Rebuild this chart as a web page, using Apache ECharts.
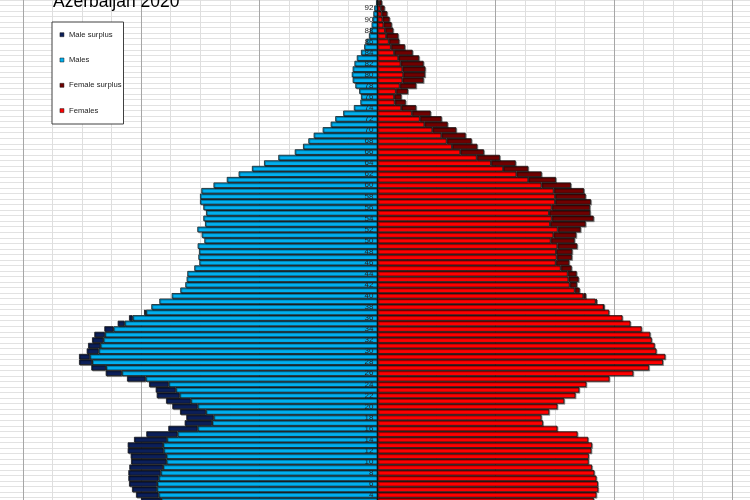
<!DOCTYPE html>
<html>
<head>
<meta charset="utf-8">
<title>Azerbaijan 2020</title>
<script src="https://cdn.jsdelivr.net/npm/echarts@6/dist/echarts.min.js"></script>
<style>
html, body { margin: 0; padding: 0; background: #fff; }
#chart { width: 750px; height: 500px; }
</style>
</head>
<body>
<div id="chart"></div>
<script>
// ages 3 .. 93, bottom to top
var ages = ['3', '4', '5', '6', '7', '8', '9', '10', '11', '12', '13', '14', '15', '16', '17', '18', '19', '20',
    '21', '22', '23', '24', '25', '26', '27', '28', '29', '30', '31', '32', '33', '34', '35', '36', '37', '38',
    '39', '40', '41', '42', '43', '44', '45', '46', '47', '48', '49', '50', '51', '52', '53', '54', '55', '56',
    '57', '58', '59', '60', '61', '62', '63', '64', '65', '66', '67', '68', '69', '70', '71', '72', '73', '74',
    '75', '76', '77', '78', '79', '80', '81', '82', '83', '84', '85', '86', '87', '88', '89', '90', '91', '92', '93'];

var males = [80030, 81730, 83080, 84090, 84320, 84320, 83990, 83420, 83530, 84540, 84540, 82400, 78240, 70790,
    65250, 64700, 66830, 69440, 71570, 74720, 75060, 77320, 84770, 91980, 96850, 101010, 101010, 98410, 97960,
    96610, 95830, 92440, 87930, 84090, 79000, 76540, 73830, 69650, 66730, 65040, 64590, 64360, 62000, 60300,
    60630, 60410, 60860, 58600, 59510, 60970, 58370, 58940, 58030, 58940, 60070, 60070, 59620, 55500, 51000,
    47000, 42500, 38400, 33570, 28000, 25200, 23400, 21600, 18550, 15840, 14300, 11600, 8000, 5800, 5600, 6200,
    7500, 8400, 8700, 8400, 7800, 7000, 5600, 4500, 3800, 2900, 2500, 2000, 1650, 1400, 1100, 500];

var females = [73200, 74100, 74700, 74600, 74100, 73400, 72600, 71450, 71500, 72400, 72600, 71300, 67700, 60900,
    56000, 55500, 58100, 60900, 63200, 67000, 68300, 70700, 78500, 86560, 91900, 96600, 97400, 94400, 93800,
    92800, 92300, 89400, 85600, 82900, 78400, 76600, 74200, 70560, 68420, 67510, 68080, 67400, 65710, 64910,
    65820, 65930, 67620, 66720, 67280, 68760, 70450, 73150, 72020, 71910, 72250, 70450, 69880, 65480, 60400,
    55560, 51030, 46770, 41450, 36040, 33780, 31860, 29830, 26670, 23750, 21700, 18000, 13100, 9540, 8100, 10300,
    13100, 15600, 16100, 16200, 15600, 14100, 11900, 9300, 7380, 7040, 5350, 4800, 4100, 3300, 2400, 1500];

var colors = {
    maleSurplus: '#0b1f5a',
    males: '#00b0f0',
    femaleSurplus: '#700000',
    females: '#ff0000'
};

// split each age into the common part and the surplus of the larger sex
var maleBase = [], maleSurplus = [], femaleBase = [], femaleSurplus = [];
for (var i = 0; i < ages.length; i++) {
    var common = Math.min(males[i], females[i]);
    maleBase.push(-common);
    femaleBase.push(common);
    maleSurplus.push(males[i] > females[i] ? -(males[i] - females[i]) : '-');
    femaleSurplus.push(females[i] > males[i] ? females[i] - males[i] : '-');
}

var barStyle = (color) => {
    return {
        color: color,
        borderColor: '#151515',
        borderWidth: 0.8,
        shadowColor: 'rgba(0,0,0,0.35)',
        shadowOffsetX: 1,
        shadowOffsetY: 1
    };
};

var makeBar = (name, data, stack, color) => {
    return {
        name: name,
        type: 'bar',
        stack: stack,
        data: data,
        z: 2,
        barCategoryGap: 0,
        barGap: '-100%',
        itemStyle: barStyle(color),
        emphasis: { disabled: true },
        animation: false
    };
};

// grid runs past the window edges; 10000 people = 29.55 px, zero at x = 377.5
var gridLeft = -95.3;
var gridWidth = 945.6;
var zeroX = 377.5;

var font = '"Liberation Sans", Arial, sans-serif';
var chart = echarts.init(document.getElementById('chart'));
chart.setOption({
    animation: false,
    title: {
        text: 'Azerbaijan 2020',
        left: 53,
        top: -6.5,
        padding: 0,
        textStyle: { fontFamily: font, fontSize: 17.5, fontWeight: 'normal', color: '#000' }
    },
    legend: {
        orient: 'vertical',
        left: 52,
        top: 22,
        padding: [7.7, 2, 8.4, 7.7],
        itemGap: 15.3,
        itemWidth: 4,
        itemHeight: 4,
        icon: 'rect',
        backgroundColor: '#fff',
        borderColor: '#404040',
        borderWidth: 1,
        selectedMode: false,
        data: ['Male surplus', 'Males', 'Female surplus', 'Females'],
        itemStyle: { borderWidth: 0.5, shadowColor: 'transparent' },
        textStyle: { fontFamily: font, fontSize: 7.7, lineHeight: 10, color: '#222' }
    },
    grid: {
        left: gridLeft,
        top: 0,
        width: gridWidth,
        height: 503.2,
        outerBoundsMode: 'none',
        containLabel: false
    },
    xAxis: [{
        type: 'value',
        min: -160000,
        max: 160000,
        interval: 10000,
        axisLabel: { show: false },
        axisTick: { show: false },
        axisLine: { show: false },
        splitLine: { show: true, lineStyle: { color: '#dedede', width: 1 } }
    }, {
        type: 'value',
        position: 'top',
        min: -160000,
        max: 160000,
        interval: 40000,
        axisLabel: { show: false },
        axisTick: { show: false },
        axisLine: { show: false },
        splitLine: { show: true, lineStyle: { color: '#a6a6a6', width: 1 } }
    }],
    yAxis: [{
        type: 'category',
        data: ages,
        position: 'left',
        offset: gridLeft - zeroX,
        z: 10,
        axisLine: { show: true, onZero: false, lineStyle: { color: '#111', width: 1 } },
        axisTick: { show: false },
        splitLine: { show: false },
        axisLabel: {
            interval: 0,
            hideOverlap: false,
            formatter: (value) => Number(value) % 2 === 0 ? value : '',
            margin: 4,
            fontFamily: font,
            fontSize: 8,
            color: '#222'
        }
    }, {
        type: 'category',
        data: ages,
        position: 'right',
        axisLine: { show: false },
        axisTick: { show: false },
        axisLabel: { show: false },
        splitLine: { show: true, interval: 0, lineStyle: { color: '#e2e2e2', width: 1 } }
    }],
    series: [
        makeBar('Males', maleBase, 'm', colors.males),
        makeBar('Male surplus', maleSurplus, 'm', colors.maleSurplus),
        makeBar('Females', femaleBase, 'f', colors.females),
        makeBar('Female surplus', femaleSurplus, 'f', colors.femaleSurplus)
    ]
});
</script>
</body>
</html>
